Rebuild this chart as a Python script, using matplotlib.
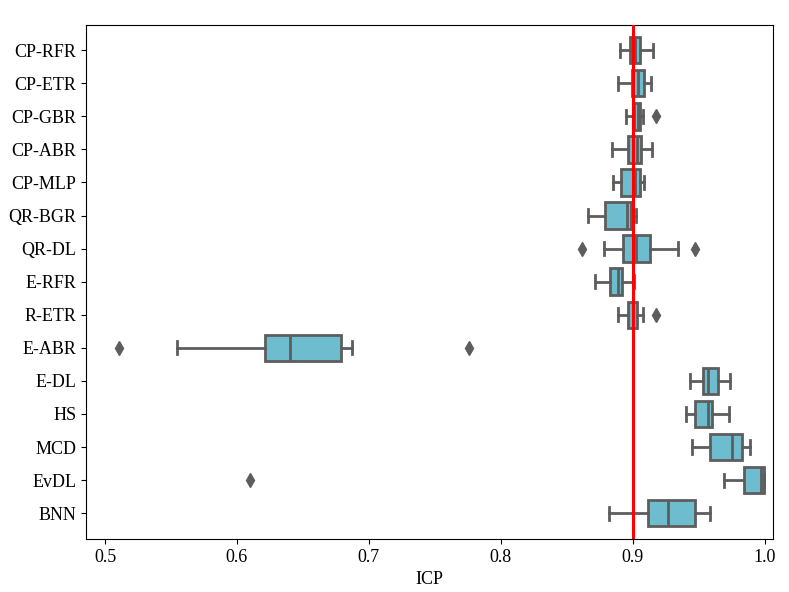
import matplotlib
matplotlib.use('Agg')
import matplotlib.pyplot as plt

plt.rcParams['font.family'] = ['Liberation Serif', 'DejaVu Serif']

models = ['CP-RFR', 'CP-ETR', 'CP-GBR', 'CP-ABR', 'CP-MLP', 'QR-BGR', 'QR-DL',
          'E-RFR', 'R-ETR', 'E-ABR', 'E-DL', 'HS', 'MCD', 'EvDL', 'BNN']

# whisker low, q1, median, q3, whisker high
whis_lo = [0.8907, 0.8891, 0.8948, 0.8841, 0.8851, 0.8662, 0.8782,
           0.8716, 0.8886, 0.5544, 0.9435, 0.9407, 0.9450, 0.9690, 0.8822]
q1 = [0.8976, 0.8992, 0.9008, 0.8967, 0.8912, 0.8788, 0.8924,
      0.8828, 0.8967, 0.6215, 0.9531, 0.9471, 0.9585, 0.9845, 0.9114]
med = [0.9020, 0.9042, 0.9038, 0.9036, 0.9020, 0.8958, 0.9025,
       0.8886, 0.9005, 0.6400, 0.9569, 0.9569, 0.9754, 0.9969, 0.9266]
q3 = [0.9058, 0.9088, 0.9055, 0.9064, 0.9054, 0.8986, 0.9129,
      0.8917, 0.9033, 0.6785, 0.9650, 0.9602, 0.9825, 0.9997, 0.9475]
whis_hi = [0.9157, 0.9141, 0.9076, 0.9144, 0.9084, 0.9024, 0.9342,
           0.9013, 0.9081, 0.6874, 0.9734, 0.9729, 0.9886, 0.9997, 0.9582]
outliers = [[], [], [0.9177], [], [], [], [0.8615, 0.9475],
            [], [0.9177], [0.5106, 0.7759], [], [], [], [0.610], []]

target = 0.9

stats = []
for i, name in enumerate(models):
    stats.append(dict(label=name, whislo=whis_lo[i], q1=q1[i], med=med[i],
                      q3=q3[i], whishi=whis_hi[i], fliers=outliers[i]))

gray = '#5d5d5d'
fill = '#6dbdcf'

fig = plt.figure(figsize=(7.89, 5.92), dpi=100)
ax = fig.add_axes([0.1094, 0.0895, 0.8706, 0.8683])

ax.bxp(stats, positions=range(len(models)), vert=False, widths=0.8,
       patch_artist=True,
       boxprops=dict(facecolor=fill, edgecolor=gray, linewidth=2),
       medianprops=dict(color=gray, linewidth=2),
       whiskerprops=dict(color=gray, linewidth=2),
       capprops=dict(color=gray, linewidth=2),
       flierprops=dict(marker='d', markerfacecolor=gray, markeredgecolor=gray,
                       markersize=7))

ax.axvline(target, color='red', linewidth=2.2, zorder=5)

ax.set_yticks(range(len(models)))
ax.set_yticklabels(models, fontsize=13)
ax.set_ylim(14.78, -0.76)
ax.set_xlim(0.4858, 1.0065)
ax.set_xticks([0.5, 0.6, 0.7, 0.8, 0.9, 1.0])
ax.set_xticklabels(['0.5', '0.6', '0.7', '0.8', '0.9', '1.0'], fontsize=13)
ax.set_xlabel('ICP', fontsize=13)

fig.savefig('out.png', dpi=100)
